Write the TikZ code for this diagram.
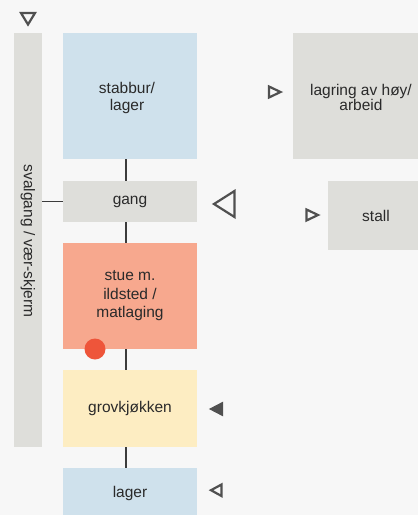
\documentclass[tikz,border=0pt]{standalone}
\usepackage{fontspec}
\setmainfont{Liberation Sans}
\definecolor{bg}{HTML}{F7F7F7}
\definecolor{boxblue}{HTML}{CFE1EC}
\definecolor{boxgrey}{HTML}{DEDEDA}
\definecolor{boxsalmon}{HTML}{F7A88E}
\definecolor{boxyellow}{HTML}{FDEDC2}
\definecolor{dotred}{HTML}{EE553A}
\definecolor{linecol}{HTML}{3C3C3C}
\definecolor{txt}{HTML}{2A2A2A}
\definecolor{tri}{HTML}{505050}
\tikzset{
  room/.style={rectangle, inner sep=0pt, outer sep=0pt, align=center, text=txt,
    font=\fontsize{15.5}{18.5}\selectfont},
  tight/.style={font=\fontsize{15.5}{16.5}\selectfont},
  tighter/.style={font=\fontsize{15.5}{15}\selectfont},
  link/.style={draw=linecol, line width=1.8pt},
  triout/.style={draw=tri, line width=2.2pt, line join=miter},
  trifill/.style={fill=tri, draw=tri, line width=1pt, line join=miter},
}
\begin{document}
\begin{tikzpicture}[x=1pt,y=-1pt]
\useasboundingbox (0,0) rectangle (418,515);
\clip (0,0) rectangle (418,515);
\fill[bg] (0,0) rectangle (418,515);
% svalgang bar
\node[room, fill=boxgrey, minimum width=28pt, minimum height=414pt] (sval) at (28,240) {};
\node[room, rotate=-90] (svaltxt) at (28,241) {svalgang / vær-skjerm};
% column rooms
\node[room, fill=boxblue, minimum width=134pt, minimum height=126pt] (stabbur) at (130,96) {};
\node[room, tight] (stabburtxt) at (127,98) {stabbur/\\lager};
\node[room, fill=boxgrey, minimum width=134pt, minimum height=41pt] (gang) at (130,201.5) {gang};
\node[room, fill=boxsalmon, minimum width=134pt, minimum height=106pt] (stue) at (130,296) {stue m.\\ildsted /\\matlaging};
\node[room, fill=boxyellow, minimum width=134pt, minimum height=77pt] (grov) at (130,408.5) {grovkjøkken};
\node[room, fill=boxblue, minimum width=134pt, minimum height=60pt] (lager) at (130,498) {};
\node[room] (lagertxt) at (130,493) {lager};
% right rooms
\node[room, fill=boxgrey, minimum width=150pt, minimum height=126pt] (lagring) at (368,96) {};
\node[room, tighter] (lagringtxt) at (361,97) {lagring av høy/\\arbeid};
\node[room, fill=boxgrey, minimum width=110pt, minimum height=69pt] (stall) at (383,215.5) {};
\node[room] (stalltxt) at (376,215.5) {stall};
% connectors
\draw[link] (126,159) -- (126,181);
\draw[link] (126,222) -- (126,243);
\draw[link] (126,349) -- (126,370);
\draw[link] (126,447) -- (126,468);
\draw[link] (sval.east |- gang.west) -- (gang.west);
% red dot
\fill[dotred] (95,349) circle (10.5pt);
% triangles
\draw[triout] (21,13) -- (35,13) -- (28,24.5) -- cycle;
\draw[triout] (269,86.5) -- (280.5,92) -- (269,97.5) -- cycle;
\draw[triout] (234.5,191) -- (234.5,217) -- (214,204) -- cycle;
\draw[triout] (306.5,209.5) -- (318,215) -- (306.5,220.5) -- cycle;
\draw[trifill] (222.5,402.5) -- (222.5,415.5) -- (210,409) -- cycle;
\draw[triout] (221.5,484.5) -- (221.5,496) -- (211,490.2) -- cycle;
\end{tikzpicture}
\end{document}
